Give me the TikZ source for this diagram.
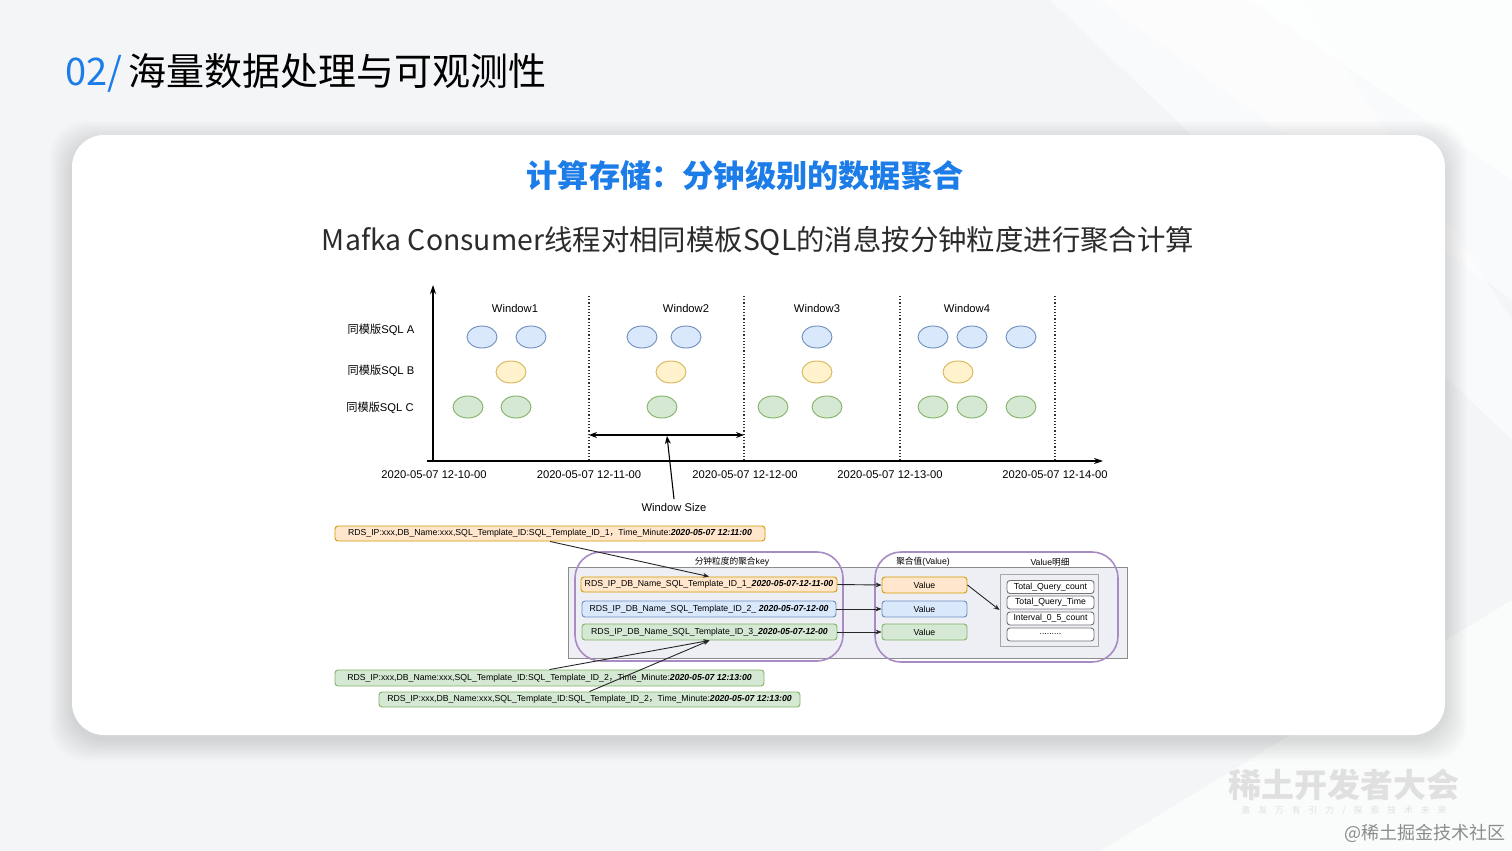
\documentclass[tikz,border=0pt]{standalone}
\usepackage{fontspec}
\setmainfont{Liberation Sans}
\newfontfamily\cjk{Noto Sans CJK SC}
\usetikzlibrary{arrows.meta,shapes.geometric}
\definecolor{bgc}{HTML}{F4F5F7}
\definecolor{ttlblue}{HTML}{1C7CE8}
\definecolor{bfill}{HTML}{DAE8FC}\definecolor{bdraw}{HTML}{6C8EBF}
\definecolor{yfill}{HTML}{FFF2CC}\definecolor{ydraw}{HTML}{D6B656}
\definecolor{gfill}{HTML}{D5E8D4}\definecolor{gdraw}{HTML}{82B366}
\definecolor{ofill}{HTML}{FFE6CC}\definecolor{odraw}{HTML}{D79B00}
\definecolor{pdraw}{HTML}{A98BC4}
\definecolor{contfill}{HTML}{EDEFF5}
\definecolor{txtdark}{HTML}{2B2B2B}
\begin{document}
\begin{tikzpicture}[x=0.5pt,y=-0.5pt,
  ell/.style={ellipse,minimum width=15pt,minimum height=11pt,inner sep=0pt,line width=0.45pt},
  eb/.style={ell,fill=bfill,draw=bdraw},
  ey/.style={ell,fill=yfill,draw=ydraw},
  eg/.style={ell,fill=gfill,draw=gdraw},
  lbl/.style={font=\fontsize{5.6}{6}\selectfont,text=black,inner sep=0pt},
  tiny/.style={font=\fontsize{4.35}{5}\selectfont,text=black,inner sep=0pt},
  rbox/.style={rectangle,rounded corners=1.5pt,line width=0.45pt,inner sep=0pt,tiny},
  obox/.style={rbox,fill=ofill,draw=odraw},
  bbox/.style={rbox,fill=bfill,draw=bdraw},
  gbox/.style={rbox,fill=gfill,draw=gdraw},
  wbox/.style={rbox,fill=white,draw=black!55},
  arr/.style={-{Stealth[length=3pt,width=2.4pt]},line width=0.45pt,black!85},
  vline/.style={densely dotted,line width=0.6pt,black!80}
]
\useasboundingbox (0,0) rectangle (1512,851);
% background
\fill[bgc] (0,0) rectangle (1512,851);
\fill[white,opacity=0.5] (0,0) -- (1100,0) -- (1512,300) -- (1512,0) -- cycle;
\fill[white,opacity=0.6] (950,0) -- (1512,0) -- (1512,180) -- (1250,0) -- cycle;
\fill[white,opacity=0.5] (1050,0) -- (1300,0) -- (1512,320) -- (1512,440) -- cycle;
\fill[white,opacity=0.6] (1100,851) -- (1512,600) -- (1512,851) -- cycle;
% card shadow and card
\foreach \d in {2,4,...,22}{
  \fill[black,opacity=0.012,rounded corners=18pt] (72-\d,135-\d+8) rectangle (1445+\d,735+\d+4);
}
\fill[white,rounded corners=16pt] (72,135) rectangle (1445,735);

% titles
\node[anchor=west,inner sep=0pt,font=\cjk\fontsize{19}{20}\selectfont] (title) at (65,73)
  {\textcolor{ttlblue}{02/}\hspace{3pt}\textcolor{black}{海量数据处理与可观测性}};
\node[inner sep=0pt,font=\cjk\bfseries\fontsize{15.6}{17}\selectfont,text=ttlblue] (sub) at (745,176)
  {计算存储：分钟级别的数据聚合};
\node[inner sep=0pt,font=\cjk\fontsize{14.2}{16}\selectfont,text=txtdark] (desc) at (758,241)
  {Mafka Consumer线程对相同模板SQL的消息按分钟粒度进行聚合计算};

% axes
\coordinate (o) at (433,462);
\coordinate (ytop) at (433,285);
\coordinate (xl) at (427,461);
\coordinate (xr) at (1103,461);
\draw[-{Stealth[length=4.5pt,width=3pt]},line width=0.6pt] (o) -- (ytop);
\draw[-{Stealth[length=4.5pt,width=3pt]},line width=0.6pt] (xl) -- (xr);
\foreach \i/\x in {1/589,2/744,3/900,4/1055}{
  \coordinate (vt\i) at (\x,296);
  \coordinate (vb\i) at (\x,462);
  \draw[vline] (vt\i) -- (vb\i);
}
% window labels
\node[lbl] (w1) at (515,308) {Window1};
\node[lbl] (w2) at (686,308) {Window2};
\node[lbl] (w3) at (817,308) {Window3};
\node[lbl] (w4) at (967,308) {Window4};
% row labels
\node[lbl] (ra) at (381,330) {{\cjk 同模版}SQL A};
\node[lbl] (rb) at (381,371) {{\cjk 同模版}SQL B};
\node[lbl] (rc) at (380,408) {{\cjk 同模版}SQL C};
% ellipses
\foreach \x [count=\i] in {482,531,642,686,817,933,972,1021}{\node[eb] (a\i) at (\x,337) {};}
\foreach \x [count=\i] in {511,671,817,958}{\node[ey] (b\i) at (\x,372) {};}
\foreach \x [count=\i] in {468,516,662,773,827,933,972,1021}{\node[eg] (c\i) at (\x,407) {};}
% time labels
\node[lbl] (t1) at (434,475) {2020-05-07 12-10-00};
\node[lbl] (t2) at (589,475) {2020-05-07 12-11-00};
\node[lbl] (t3) at (745,475) {2020-05-07 12-12-00};
\node[lbl] (t4) at (890,475) {2020-05-07 12-13-00};
\node[lbl] (t5) at (1055,475) {2020-05-07 12-14-00};
% window size
\coordinate (ws1) at (589,435);
\coordinate (ws2) at (744,435);
\coordinate (wsm) at (667,436);
\draw[{Stealth[length=4pt,width=3pt]}-{Stealth[length=4pt,width=3pt]},line width=0.55pt] (ws1) -- (ws2);
\node[lbl] (wsl) at (674,507) {Window Size};
\draw[-{Stealth[length=4pt,width=3pt]},line width=0.55pt] (674,499) -- (wsm);

% lower part containers
\node[rectangle,fill=contfill,draw=black!45,line width=0.5pt,minimum width=279.5pt,minimum height=45.5pt,inner sep=0pt] (cont) at (847.5,612.5) {};
\node[rectangle,rounded corners=13pt,draw=pdraw,line width=0.8pt,minimum width=134pt,minimum height=54.5pt,inner sep=0pt] (keyc) at (709,606.5) {};
\node[rectangle,rounded corners=13pt,draw=pdraw,line width=0.8pt,minimum width=121.5pt,minimum height=55pt,inner sep=0pt] (valc) at (996.5,607) {};
\node[tiny] (keyt) at (732,562) {{\cjk 分钟粒度的聚合}key};
\node[tiny] (valt) at (923,562) {{\cjk 聚合值}(Value)};
\node[tiny] (dett) at (1050,562) {Value{\cjk 明细}};

% top message
\node[obox,minimum width=215pt,minimum height=7.5pt] (m1) at (550,533.5)
  {RDS\_IP:xxx,DB\_Name:xxx,SQL\_Template\_ID:SQL\_Template\_ID\_1{\cjk ，}Time\_Minute:\textbf{\textit{2020-05-07 12:11:00}}};
% keys
\node[obox,minimum width=128pt,minimum height=7.5pt] (k1) at (709,584.5)
  {RDS\_IP\_DB\_Name\_SQL\_Template\_ID\_1\_\textbf{\textit{2020-05-07-12-11-00}}};
\node[bbox,minimum width=127pt,minimum height=8pt] (k2) at (709,609)
  {RDS\_IP\_DB\_Name\_SQL\_Template\_ID\_2\_ \textbf{\textit{2020-05-07-12-00}}};
\node[gbox,minimum width=127.5pt,minimum height=8pt] (k3) at (709.5,632)
  {RDS\_IP\_DB\_Name\_SQL\_Template\_ID\_3\_\textbf{\textit{2020-05-07-12-00}}};
% values
\node[obox,minimum width=42.5pt,minimum height=8pt] (v1) at (924.5,585) {Value};
\node[bbox,minimum width=42.5pt,minimum height=8pt] (v2) at (924.5,609) {Value};
\node[gbox,minimum width=42.5pt,minimum height=8pt] (v3) at (924.5,632) {Value};
% details
\node[rectangle,fill=contfill,draw=black!35,line width=0.45pt,minimum width=49pt,minimum height=36pt,inner sep=0pt] (det) at (1049,610) {};
\node[wbox,minimum width=43.5pt,minimum height=6.5pt] (d1) at (1050.5,587) {Total\_Query\_count};
\node[wbox,minimum width=43.5pt,minimum height=6.5pt] (d2) at (1050.5,602.5) {Total\_Query\_Time};
\node[wbox,minimum width=43.5pt,minimum height=6.5pt] (d3) at (1050.5,618.5) {Interval\_0\_5\_count};
\node[wbox,minimum width=43.5pt,minimum height=6.5pt] (d4) at (1050.5,634.5) {.........};
% bottom messages
\node[gbox,minimum width=214.5pt,minimum height=8pt] (g1) at (549.5,678)
  {RDS\_IP:xxx,DB\_Name:xxx,SQL\_Template\_ID:SQL\_Template\_ID\_2{\cjk ，}Time\_Minute:\textbf{\textit{2020-05-07 12:13:00}}};
\node[gbox,minimum width=210.5pt,minimum height=7.5pt] (g2) at (589.5,699.5)
  {RDS\_IP:xxx,DB\_Name:xxx,SQL\_Template\_ID:SQL\_Template\_ID\_2{\cjk ，}Time\_Minute:\textbf{\textit{2020-05-07 12:13:00}}};

% arrows
\draw[arr] (m1.south) -- (k1.north);
\draw[arr] (k1.east) -- (v1.west);
\draw[arr] (k2.east) -- (v2.west);
\draw[arr] (k3.east) -- (v3.west);
\draw[arr] (v1.east) -- (det.west);
\draw[arr] (g1.north) -- (k3.south);
\draw[arr] (g2.north) -- (k3.south);

% logo watermark
\node[inner sep=0pt,font=\cjk\bfseries\fontsize{16.5}{18}\selectfont,text=black!12] (logo) at (1344,785) {稀土开发者大会};
\node[inner sep=0pt,font=\cjk\fontsize{4.4}{5}\selectfont,text=black!12] (slogan) at (1344,811) {激\hspace{4pt}发\hspace{4pt}万\hspace{4pt}有\hspace{4pt}引\hspace{4pt}力\hspace{4pt}/\hspace{4pt}探\hspace{4pt}索\hspace{4pt}技\hspace{4pt}术\hspace{4pt}未\hspace{4pt}来};
\node[inner sep=0pt,font=\cjk\fontsize{9}{10}\selectfont,text=black!45,anchor=east] (juejin) at (1506,833) {@稀土掘金技术社区};
\end{tikzpicture}
\end{document}
